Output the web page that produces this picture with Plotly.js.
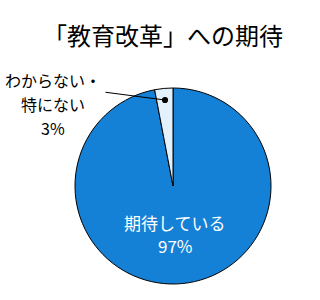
<!DOCTYPE html>
<html><head><meta charset="utf-8">
<script src="https://cdn.plot.ly/plotly-3.0.1.min.js"></script>
<style>html,body{margin:0;padding:0;background:#fff}#chart{width:320px;height:300px}</style>
</head><body><div id="chart"></div>
<script>
const titleText = "「教育改革」への期待";
const categoryLines = [["期待している"], ["わからない・", "特にない"]];
const values = [97, 3];
const colors = ["#1581d6", "#e2f1fb"];
const font = "Noto Sans CJK JP, Noto Sans, sans-serif";

const labels = categoryLines.map(l => l.join(""));
const pct = values.map(v => v + "%");

const data = [{
  type: "pie",
  values: values,
  labels: labels,
  sort: false,
  direction: "clockwise",
  rotation: 0,
  textinfo: "none",
  hoverinfo: "none",
  marker: {colors: colors, line: {color: "#000", width: 1}},
  domain: {x: [75/320, 271/320], y: [1 - 284/300, 1 - 88/300]},
  showlegend: false
}];

function lineAnn(text, x, y, size, color) {
  return {xref: "paper", yref: "paper", x: x/320, y: 1 - y/300, xanchor: "center", yanchor: "middle",
          text: text, showarrow: false, font: {family: font, size: size, color: color}};
}

const annotations = [];
// inside label (slice 0)
const in0 = categoryLines[0].concat([pct[0]]);
in0.forEach((t, i) => annotations.push(lineAnn(t, 175, 222 + i * 23, 17, "#fff")));
// outside label (slice 1)
const out1 = categoryLines[1].concat([pct[1]]);
out1.forEach((t, i) => annotations.push(lineAnn(t, 53, 80 + i * 24, 16, "#000")));
// leader line
annotations.push({xref: "paper", yref: "paper", x: 165/320, y: 1 - 100/300, ax: 104/320, ay: 1 - 92/300,
  axref: "paper", ayref: "paper", text: "", showarrow: true, arrowhead: 6, arrowsize: 1.4,
  arrowwidth: 1.1, arrowcolor: "#000", standoff: 0, startstandoff: 0});

const layout = {
  width: 320, height: 300,
  margin: {l: 0, r: 0, t: 0, b: 0},
  paper_bgcolor: "#fff",
  title: {text: titleText, x: 163/320, xanchor: "center", y: 1 - 37/300, yanchor: "middle",
          font: {family: font, size: 24, color: "#000"}},
  annotations: annotations
};

Plotly.newPlot("chart", data, layout, {staticPlot: true, displayModeBar: false});
</script></body></html>
